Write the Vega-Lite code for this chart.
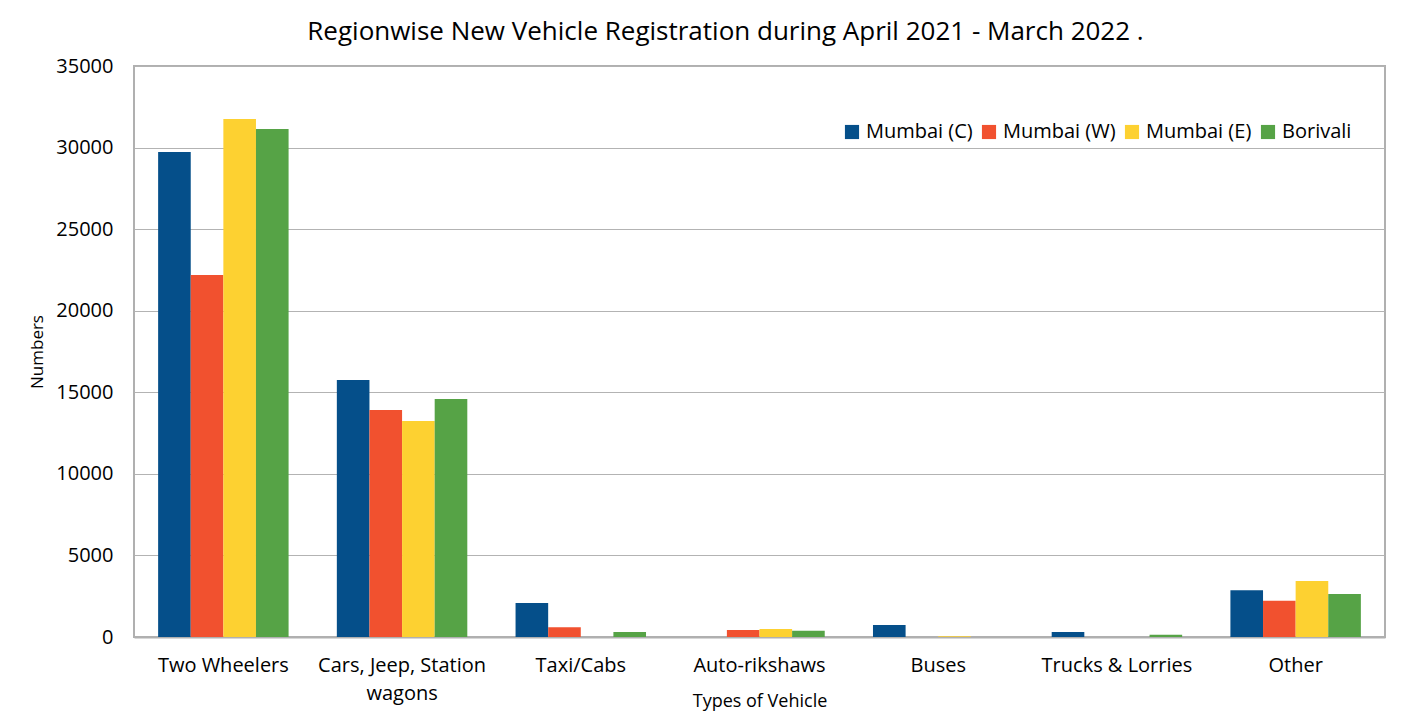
{
  "$schema": "https://vega.github.io/schema/vega-lite/v6.json",
  "width": 1251,
  "height": 571,
  "autosize": {"type": "none"},
  "padding": {"left": 134, "top": 66, "right": 35, "bottom": 83},
  "background": "white",
  "title": {
    "text": "Regionwise New Vehicle Registration during April 2021 - March 2022 .",
    "fontSize": 26,
    "font": "Open Sans",
    "fontWeight": "normal",
    "color": "#000000",
    "anchor": "middle",
    "dx": -34,
    "offset": 11
  },
  "data": {
    "values": [
      {"type": "Two Wheelers", "region": "Mumbai (C)", "value": 29730},
      {"type": "Two Wheelers", "region": "Mumbai (W)", "value": 22190},
      {"type": "Two Wheelers", "region": "Mumbai (E)", "value": 31750},
      {"type": "Two Wheelers", "region": "Borivali", "value": 31140},
      {"type": "Cars, Jeep, Station wagons", "region": "Mumbai (C)", "value": 15750},
      {"type": "Cars, Jeep, Station wagons", "region": "Mumbai (W)", "value": 13910},
      {"type": "Cars, Jeep, Station wagons", "region": "Mumbai (E)", "value": 13240},
      {"type": "Cars, Jeep, Station wagons", "region": "Borivali", "value": 14590},
      {"type": "Taxi/Cabs", "region": "Mumbai (C)", "value": 2090},
      {"type": "Taxi/Cabs", "region": "Mumbai (W)", "value": 600},
      {"type": "Taxi/Cabs", "region": "Mumbai (E)", "value": 0},
      {"type": "Taxi/Cabs", "region": "Borivali", "value": 310},
      {"type": "Auto-rikshaws", "region": "Mumbai (C)", "value": 0},
      {"type": "Auto-rikshaws", "region": "Mumbai (W)", "value": 430},
      {"type": "Auto-rikshaws", "region": "Mumbai (E)", "value": 490},
      {"type": "Auto-rikshaws", "region": "Borivali", "value": 390},
      {"type": "Buses", "region": "Mumbai (C)", "value": 740},
      {"type": "Buses", "region": "Mumbai (W)", "value": 0},
      {"type": "Buses", "region": "Mumbai (E)", "value": 40},
      {"type": "Buses", "region": "Borivali", "value": 0},
      {"type": "Trucks & Lorries", "region": "Mumbai (C)", "value": 300},
      {"type": "Trucks & Lorries", "region": "Mumbai (W)", "value": 0},
      {"type": "Trucks & Lorries", "region": "Mumbai (E)", "value": 0},
      {"type": "Trucks & Lorries", "region": "Borivali", "value": 140},
      {"type": "Other", "region": "Mumbai (C)", "value": 2860},
      {"type": "Other", "region": "Mumbai (W)", "value": 2225},
      {"type": "Other", "region": "Mumbai (E)", "value": 3430},
      {"type": "Other", "region": "Borivali", "value": 2635}
    ]
  },
  "mark": {"type": "bar"},
  "encoding": {
    "x": {
      "field": "type",
      "type": "nominal",
      "sort": null,
      "scale": {"paddingInner": 0.27, "paddingOuter": 0.135},
      "axis": {
        "title": "Types of Vehicle",
        "titleFont": "Open Sans",
        "titleFontSize": 18,
        "titleFontWeight": "normal",
        "titleColor": "#000000",
        "titleBaseline": "middle",
        "titleY": 64,
        "labelFont": "Open Sans",
        "labelFontSize": 20,
        "labelColor": "#000000",
        "labelAngle": 0,
        "labelPadding": 18,
        "labelExpr": "datum.label == 'Cars, Jeep, Station wagons' ? ['Cars, Jeep, Station', 'wagons'] : datum.label",
        "labelLineHeight": 28,
        "ticks": false,
        "domainColor": "#b0b0b0",
        "domainWidth": 2
      }
    },
    "xOffset": {
      "field": "region",
      "type": "nominal",
      "sort": ["Mumbai (C)", "Mumbai (W)", "Mumbai (E)", "Borivali"],
      "scale": {"paddingInner": 0, "paddingOuter": 0}
    },
    "y": {
      "field": "value",
      "type": "quantitative",
      "scale": {"domain": [0, 35000], "nice": false},
      "axis": {
        "title": "Numbers",
        "titleFont": "Open Sans",
        "titleFontSize": 17,
        "titleFontWeight": "normal",
        "titleColor": "#000000",
        "titlePadding": 9,
        "labelFont": "Open Sans",
        "labelFontSize": 20,
        "labelColor": "#000000",
        "labelPadding": 21,
        "values": [0, 5000, 10000, 15000, 20000, 25000, 30000, 35000],
        "format": "d",
        "ticks": false,
        "domain": false,
        "gridColor": "#b3b3b3",
        "gridWidth": 1
      }
    },
    "color": {
      "field": "region",
      "type": "nominal",
      "sort": ["Mumbai (C)", "Mumbai (W)", "Mumbai (E)", "Borivali"],
      "scale": {
        "domain": ["Mumbai (C)", "Mumbai (W)", "Mumbai (E)", "Borivali"],
        "range": ["#054f8a", "#f1512f", "#fdd131", "#56a346"]
      },
      "legend": {
        "title": null,
        "orient": "none",
        "legendX": 708,
        "legendY": 56,
        "direction": "horizontal",
        "symbolType": "square",
        "symbolSize": 200,
        "symbolStrokeWidth": 0,
        "labelFont": "Open Sans",
        "labelFontSize": 20,
        "labelColor": "#000000",
        "columnPadding": 6,
        "labelOffset": 4
      }
    }
  },
  "config": {
    "view": {"stroke": "#b0b0b0", "strokeWidth": 2}
  }
}
